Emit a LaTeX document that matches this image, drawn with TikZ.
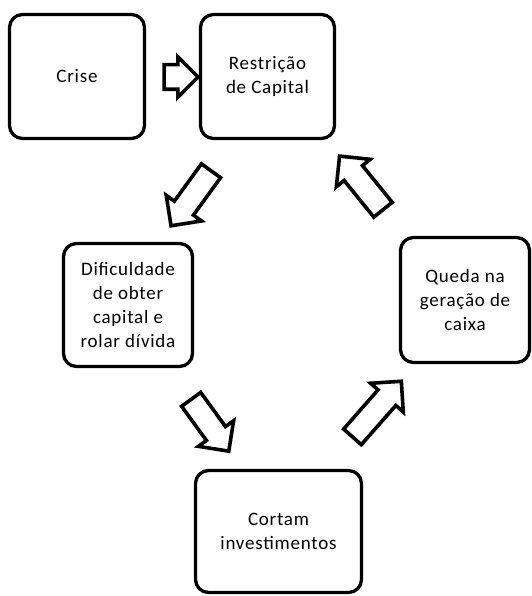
\documentclass[tikz,border=0pt]{standalone}
\usepackage{fontspec}
\setmainfont{Carlito}[LetterSpace=4]
\usetikzlibrary{shapes.arrows}
\begin{document}
\begin{tikzpicture}[x=1pt,y=-1pt,
  box/.style={draw,line width=3.3pt,rounded corners=13pt,align=center,font=\fontsize{19}{24}\selectfont},
  blockarrow/.style={single arrow,draw,line width=3.6pt,fill=white,inner xsep=0pt,inner ysep=10pt,
    minimum width=40pt,single arrow head extend=10pt,single arrow tip angle=90}]
\useasboundingbox (0,0) rectangle (531,596);
\node[box,minimum width=135pt,minimum height=124pt] (crise) at (77,76.5) {Crise};
\node[box,minimum width=134pt,minimum height=124pt] (rest) at (267.5,76.5) {Restrição\\de Capital};
\node[box,minimum width=129pt,minimum height=123pt] (dif) at (128,305) {Dificuldade\\de obter\\capital e\\rolar dívida};
\node[box,minimum width=129pt,minimum height=125pt] (queda) at (465,300) {Queda na\\geração de\\caixa};
\node[box,minimum width=166pt,minimum height=122pt] (cort) at (278.5,531.5) {Cortam\\investimentos};
\node[blockarrow,minimum height=34pt,inner ysep=10.5pt,minimum width=39pt,single arrow head extend=8pt] (a0) at (175,77) {};
\node[blockarrow,minimum height=68pt,rotate=234] (a1) at (194.5,193.5) {};
\node[blockarrow,minimum height=69pt,rotate=129] (a2) at (365,187.5) {};
\node[blockarrow,minimum height=64pt,rotate=-54] (a3) at (206.5,420.5) {};
\node[blockarrow,minimum height=74pt,rotate=48.7] (a4) at (373,413.5) {};
\end{tikzpicture}
\end{document}
